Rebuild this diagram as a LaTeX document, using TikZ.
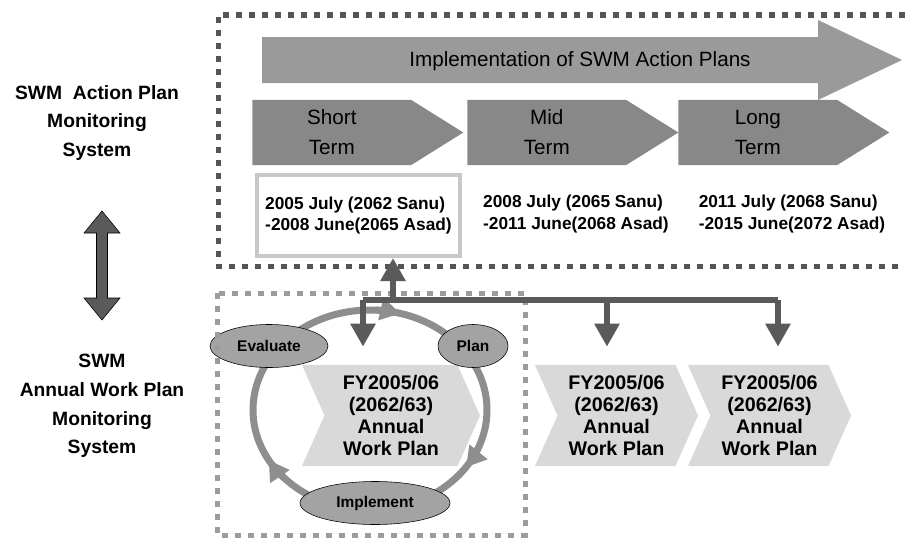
\documentclass[tikz,border=0pt]{standalone}
\usepackage{fontspec}
\setmainfont{Liberation Sans}
\usetikzlibrary{shapes.geometric,shapes.symbols,arrows.meta}

\definecolor{dashdark}{HTML}{555555}
\definecolor{dashlight}{HTML}{9C9C9C}
\definecolor{implgray}{HTML}{9A9A9A}
\definecolor{termgray}{HTML}{888888}
\definecolor{boxgray}{HTML}{C8C8C8}
\definecolor{fygray}{HTML}{D9D9D9}
\definecolor{ringgray}{HTML}{8E8E8E}
\definecolor{stagegray}{HTML}{A3A3A3}
\definecolor{conngray}{HTML}{5A5A5A}

\begin{document}
\begin{tikzpicture}[x=0.025cm, y=-0.025cm,
          dashbox/.style={line width=0.125cm, dash pattern=on 0.15cm off 0.175cm},
          termarrow/.style={signal, signal to=east, signal pointer angle=64, fill=termgray, minimum width=5.275cm, minimum height=1.625cm, inner sep=0pt, align=center, anchor=west, font=\fontsize{14.7}{21.3}\selectfont},
          dates/.style={align=left, font=\fontsize{12.3}{15.6}\selectfont\bfseries},
          datebox/.style={dates, draw=boxgray, line width=0.1cm, minimum width=5.075cm, minimum height=2.025cm},
          fyarrow/.style={signal, signal to=east, signal from=west, signal pointer angle=132, fill=fygray, minimum width=4.075cm, minimum height=2.525cm, inner sep=0pt, align=center, font=\fontsize{14}{15.8}\selectfont\bfseries},
          stage/.style={ellipse, draw=black, fill=stagegray, minimum height=1.075cm, inner sep=0pt, font=\fontsize{11}{13}\selectfont\bfseries},
          ring/.style={draw=ringgray, line width=0.175cm},
          ringtip/.style={ring, -{Triangle[width=0.55cm,length=0.5cm]}},
          conn/.style={draw=conngray, line width=0.15cm},
          connarrow/.style={conn, -{Triangle[width=0.6cm,length=0.575cm]}},
          sidelabel/.style={align=center, font=\fontsize{13.7}{20.5}\selectfont\bfseries}
        ]
          \useasboundingbox (0,0) rectangle (905,539);

          % Action plan frame
          \draw[dashbox, dashdark] (905,15) -- (218,15) -- (218,266) -- (905,266);

          % Implementation arrow
          \fill[implgray] (262,37) -- (818,37) -- (818,20) -- (902,60) -- (818,100) -- (818,83) -- (262,83) -- cycle;
          \node[font=\fontsize{14.7}{18}\selectfont] (impl) at (580,61) {Implementation of SWM Action Plans};

          % Terms
          \node[termarrow] (short) at (252,132.5) {Short\\Term};
          \node[termarrow] (mid) at (467,132.5) {Mid\\Term};
          \node[termarrow] (long) at (678,132.5) {Long\\Term};

          % Periods
          \node[datebox] (shortdates) at (358.5,215.5) {2005 July (2062 Sanu)\\-2008 June(2065 Asad)};
          \node[dates] (middates) at (576,214) {2008 July (2065 Sanu)\\-2011 June(2068 Asad)};
          \node[dates] (longdates) at (792,214) {2011 July (2068 Sanu)\\-2015 June(2072 Asad)};

          % Annual cycle
          \coordinate (cyc) at (370,410);
          \draw[ring] (cyc) ellipse [x radius=117, y radius=100];
          \node[fyarrow, minimum width=4.45cm] (fy1) at (391,415.5) {FY2005/06\\(2062/63)\\Annual\\Work Plan};
          \node[fyarrow] (fy2) at (616.5,415.5) {FY2005/06\\(2062/63)\\Annual\\Work Plan};
          \node[fyarrow] (fy3) at (769.5,415.5) {FY2005/06\\(2062/63)\\Annual\\Work Plan};

          \draw[ringtip] (cyc) ++(-87:117 and 100) arc[start angle=-87, end angle=-75, x radius=117, y radius=100];
          \draw[ringtip] (cyc) ++(23:117 and 100) arc[start angle=23, end angle=35, x radius=117, y radius=100];
          \draw[ringtip] (cyc) ++(138:117 and 100) arc[start angle=138, end angle=150, x radius=117, y radius=100];

          \node[stage, minimum width=2.95cm] (evaluate) at (269,346) {Evaluate};
          \node[stage, minimum width=1.75cm] (plan) at (473,346) {Plan};
          \node[stage, minimum width=3.75cm] (implement) at (375,503) {Implement};

          % Annual plan frame
          \draw[dashbox, dashlight] (217,293) rectangle (525,535);

          % Connections
          \coordinate (busL) at (363,300);
          \coordinate (busUp) at (393,300);
          \coordinate (bus2) at (607,300);
          \coordinate (busR) at (778,300);
          \draw[conn] (busL) -- (busR);
          \draw[connarrow] (busUp) -- (shortdates.south -| busUp);
          \draw[connarrow, shorten >=0.45cm] (busL) -- (busL |- fy1.north);
          \draw[connarrow, shorten >=0.45cm] (bus2) -- (bus2 |- fy2.north);
          \draw[connarrow, shorten >=0.45cm] (busR) -- (busR |- fy3.north);

          % Monitoring systems
          \node[sidelabel] (apms) at (97,123) {SWM\ \ Action Plan\\Monitoring\\System};
          \node[sidelabel] (awpms) at (102,406) {SWM\\Annual Work Plan\\Monitoring\\System};
          \draw[fill=conngray, thin] (102,211) -- (120,233) -- (107.5,233) -- (107.5,298) -- (120,298) -- (102,320)
            -- (84,298) -- (96.5,298) -- (96.5,233) -- (84,233) -- cycle;
        \end{tikzpicture}
\end{document}
